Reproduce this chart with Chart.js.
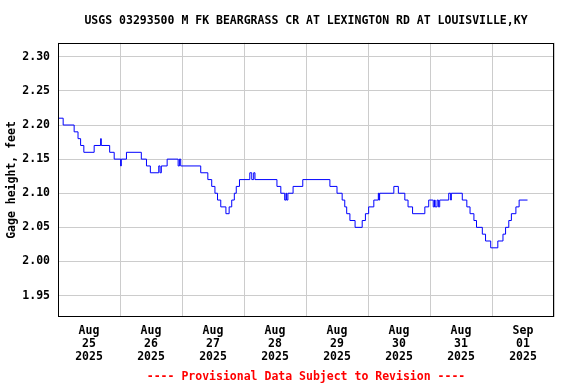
<!DOCTYPE html>
<html>
<head>
<meta charset="utf-8">
<script src="https://cdn.jsdelivr.net/npm/chart.js@4.4.1/dist/chart.umd.min.js"></script>
<style>
  html, body { margin: 0; padding: 0; background: #fff; }
  canvas { display: block; }
</style>
</head>
<body>
<canvas id="gage" width="576" height="384"></canvas>
<script>
// hours after Aug 25 2025 00:00, value holds until next change
const hours = [0, 2, 6.25, 7.75, 8.75, 10, 14, 16.5, 16.75, 20, 21.75, 24.25, 24.5, 26.5,
  32.25, 34.25, 35.75, 39, 39.5, 40, 42.25, 46.5, 47, 47.5, 55.25, 58, 59.5, 60.75, 61.75,
  63, 65, 66.25, 67.25, 68.25, 69, 70.25, 74.25, 75, 75.75, 76.25, 84.75, 86.25, 87.75,
  88.25, 88.5, 89, 91, 94.75, 105.25, 108, 110, 111, 111.75, 113, 115, 117.75, 119, 120.25,
  122.25, 124, 124.25, 124.5, 130, 131.75, 134.25, 135.5, 137.25, 142, 143.5, 145.25,
  145.75, 146, 146.75, 147.25, 147.75, 151.25, 152, 152.25, 156.5, 158.25, 159.5, 161,
  162, 164.25, 165.5, 167.5, 170.25, 172.25, 173.25, 174.5, 175.5, 177.25, 178.5, 181.75];
const gageHeight = [2.21, 2.20, 2.19, 2.18, 2.17, 2.16, 2.17, 2.18, 2.17, 2.16, 2.15, 2.14, 2.15, 2.16,
  2.15, 2.14, 2.13, 2.14, 2.13, 2.14, 2.15, 2.14, 2.15, 2.14, 2.13, 2.12, 2.11, 2.10, 2.09,
  2.08, 2.07, 2.08, 2.09, 2.10, 2.11, 2.12, 2.13, 2.12, 2.13, 2.12, 2.11, 2.10, 2.09,
  2.10, 2.09, 2.10, 2.11, 2.12, 2.11, 2.10, 2.09, 2.08, 2.07, 2.06, 2.05, 2.06, 2.07, 2.08,
  2.09, 2.10, 2.09, 2.10, 2.11, 2.10, 2.09, 2.08, 2.07, 2.08, 2.09, 2.08,
  2.09, 2.08, 2.09, 2.08, 2.09, 2.10, 2.09, 2.10, 2.09, 2.08, 2.07, 2.06,
  2.05, 2.04, 2.03, 2.02, 2.03, 2.04, 2.05, 2.06, 2.07, 2.08, 2.09, 2.09];

const yTicks = [1.95, 2.00, 2.05, 2.10, 2.15, 2.20, 2.25, 2.30];
const xTicks = [0, 12, 24, 36, 48, 60, 72, 84, 96, 108, 120, 132, 144, 156, 168, 180, 192];
const dayLabels = [
  ['Aug', '25', '2025'], ['Aug', '26', '2025'], ['Aug', '27', '2025'], ['Aug', '28', '2025'],
  ['Aug', '29', '2025'], ['Aug', '30', '2025'], ['Aug', '31', '2025'], ['Sep', '01', '2025']
];

const monoBold = { family: 'DejaVu Sans Mono', size: 11.5, weight: 'bold' };

const frame = {
  id: 'frame',
  afterDraw(chart) {
    const { ctx, chartArea: a } = chart;
    ctx.save();
    ctx.strokeStyle = '#000';
    ctx.lineWidth = 1;
    ctx.strokeRect(Math.round(a.left) + 0.5, Math.round(a.top) + 0.5,
      Math.round(a.right - a.left) - 1, Math.round(a.bottom - a.top) - 1);
    ctx.restore();
  }
};

new Chart(document.getElementById('gage'), {
  type: 'line',
  data: {
    datasets: [{
      data: hours.map((h, i) => ({ x: h, y: gageHeight[i] })),
      borderColor: '#0000ff',
      borderWidth: 1,
      pointRadius: 0,
      stepped: 'before',
      fill: false
    }]
  },
  options: {
    responsive: false,
    animation: false,
    events: [],
    layout: { padding: { left: 0, right: 22, top: 0, bottom: 0 } },
    plugins: {
      legend: { display: false },
      tooltip: { enabled: false },
      title: {
        display: true,
        text: 'USGS 03293500 M FK BEARGRASS CR AT LEXINGTON RD AT LOUISVILLE,KY',
        color: '#000',
        font: monoBold,
        fullSize: false,
        padding: { top: 14, bottom: 15 }
      },
      subtitle: {
        display: true,
        position: 'bottom',
        text: '---- Provisional Data Subject to Revision ----',
        color: '#ff0000',
        font: monoBold,
        fullSize: false,
        padding: { top: 4, bottom: 0 }
      }
    },
    scales: {
      x: {
        type: 'linear',
        min: 0,
        max: 192,
        border: { display: false },
        grid: {
          drawTicks: false,
          color: (c) => (c.tick && c.tick.value % 24 === 0) ? '#cccccc' : 'rgba(0,0,0,0)'
        },
        afterBuildTicks: (axis) => { axis.ticks = xTicks.map(v => ({ value: v })); },
        afterFit: (axis) => { axis.height = 49; },
        ticks: {
          autoSkip: false,
          maxRotation: 0,
          padding: 7,
          color: '#000',
          font: { ...monoBold, lineHeight: 1.13 },
          callback: (v) => v % 24 === 12 ? dayLabels[(v - 12) / 24] : ''
        }
      },
      y: {
        min: 1.9183,
        max: 2.3205,
        border: { display: false },
        grid: { drawTicks: false, color: '#cccccc' },
        afterBuildTicks: (axis) => { axis.ticks = yTicks.map(v => ({ value: v })); },
        afterFit: (axis) => { axis.width = 58; },
        ticks: {
          padding: 8,
          color: '#000',
          font: monoBold,
          callback: (v) => v.toFixed(2)
        },
        title: {
          display: true,
          text: 'Gage height, feet',
          color: '#000',
          font: monoBold,
          padding: { top: 5, bottom: 0 }
        }
      }
    }
  },
  plugins: [frame]
});
</script>
</body>
</html>
